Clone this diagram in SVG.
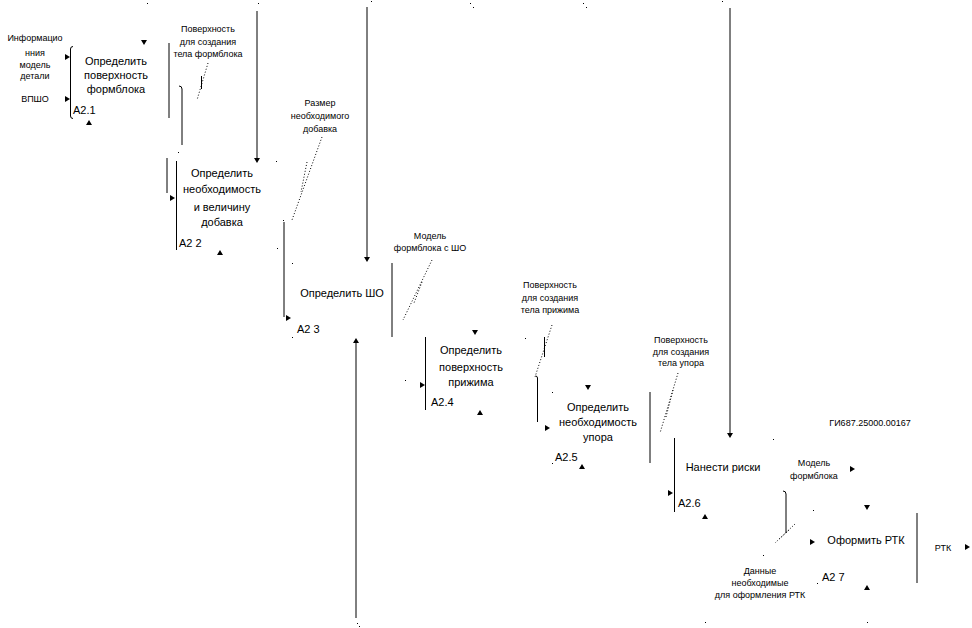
<svg xmlns="http://www.w3.org/2000/svg" width="972" height="628" viewBox="0 0 972 628">
<defs>
<style>
.ln{stroke:#000;stroke-width:1;fill:none}
.dt{stroke:#000;stroke-width:1;fill:none;stroke-dasharray:1,2}
.bx{font-family:"Liberation Sans",Arial,sans-serif;font-size:11px;fill:#000;text-anchor:middle}
.lb{font-family:"Liberation Sans",Arial,sans-serif;font-size:9px;fill:#000;text-anchor:middle}
.id{font-family:"Liberation Sans",Arial,sans-serif;font-size:11px;fill:#000}
.dot{fill:#000}
</style>
<path id="ad" d="M-3,-5 L3,-5 L0,0 Z"/>
<path id="ar" d="M-5,-3 L0,0 L-5,3 Z"/>
<path id="au" d="M-3,5 L3,5 L0,0 Z"/>
</defs>
<rect width="972" height="628" fill="#fff"/>

<g id="box-a21">
<path class="ln" d="M73,46.5 Q70.5,46.5 70.5,49 V116 Q70.5,118.5 73,118.5"/>
<line class="ln" x1="169" y1="43" x2="169" y2="118"/>
<text class="bx" x="116" y="65">Определить</text>
<text class="bx" x="116" y="79">поверхность</text>
<text class="bx" x="116" y="93">формблока</text>
<text class="id" x="73" y="114">А2.1</text>
</g>

<g id="box-a22">
<line class="ln" x1="167" y1="158" x2="167" y2="193"/>
<line class="ln" x1="176.5" y1="161" x2="176.5" y2="250"/>
<text class="bx" x="222" y="177">Определить</text>
<text class="bx" x="222" y="193">необходимость</text>
<text class="bx" x="222" y="211">и величину</text>
<text class="bx" x="222" y="226">добавка</text>
<text class="id" x="179" y="247">А2 2</text>
</g>

<g id="box-a23">
<line class="ln" x1="284" y1="222" x2="284" y2="317"/>
<line class="ln" x1="392" y1="263" x2="392" y2="337"/>
<text class="bx" x="342" y="297">Определить ШО</text>
<text class="id" x="297" y="333">А2 3</text>
</g>

<g id="box-a24">
<line class="ln" x1="425.5" y1="337" x2="425.5" y2="410"/>
<text class="bx" x="471" y="354">Определить</text>
<text class="bx" x="471" y="371">поверхность</text>
<text class="bx" x="471" y="386">прижима</text>
<text class="id" x="431" y="406">А2.4</text>
</g>

<g id="box-a25">
<path class="ln" d="M535.5,376 Q537.5,376 537.5,378 V422"/>
<line class="ln" x1="650" y1="392" x2="650" y2="463"/>
<text class="bx" x="598" y="411">Определить</text>
<text class="bx" x="598" y="426">необходимость</text>
<text class="bx" x="598" y="441">упора</text>
<text class="id" x="555" y="461">А2.5</text>
</g>

<g id="box-a26">
<line class="ln" x1="674.5" y1="438" x2="674.5" y2="512"/>
<text class="bx" x="723" y="471">Нанести риски</text>
<text class="id" x="678" y="507">А2.6</text>
</g>

<g id="box-a27">
<line class="ln" x1="917" y1="513" x2="917" y2="583"/>
<text class="bx" x="866" y="544">Оформить РТК</text>
<text class="id" x="822" y="581">А2 7</text>
</g>

<g id="labels">
<text class="lb" x="35" y="41">Информацио</text>
<text class="lb" x="35" y="56">нния</text>
<text class="lb" x="35" y="68">модель</text>
<text class="lb" x="35" y="79">детали</text>
<text class="lb" x="35" y="102">ВПШО</text>
<text class="lb" x="208" y="32">Поверхность</text>
<text class="lb" x="208" y="45">для создания</text>
<text class="lb" x="208" y="57">тела формблока</text>
<text class="lb" x="320" y="106">Размер</text>
<text class="lb" x="320" y="119">необходимого</text>
<text class="lb" x="320" y="132">добавка</text>
<text class="lb" x="430" y="239">Модель</text>
<text class="lb" x="430" y="251">формблока с ШО</text>
<text class="lb" x="550" y="288">Поверхность</text>
<text class="lb" x="550" y="301">для создания</text>
<text class="lb" x="550" y="313">тела прижима</text>
<text class="lb" x="681" y="343">Поверхность</text>
<text class="lb" x="681" y="355">для создания</text>
<text class="lb" x="681" y="366">тела упора</text>
<text class="lb" x="870" y="426">ГИ687.25000.00167</text>
<text class="lb" x="814" y="466">Модель</text>
<text class="lb" x="814" y="479">формблока</text>
<text class="lb" x="760" y="574">Данные</text>
<text class="lb" x="760" y="586">необходимые</text>
<text class="lb" x="760" y="598">для оформления РТК</text>
<text class="lb" x="943" y="551">РТК</text>
</g>

<g id="connectors">
<line class="ln" x1="182" y1="89" x2="182" y2="145"/>
<path class="ln" d="M179,86 Q182,86 182,89"/>
<line class="ln" x1="257" y1="11" x2="257" y2="158"/>
<line class="ln" x1="367" y1="7" x2="367" y2="257"/>
<line class="ln" x1="730" y1="8" x2="730" y2="433"/>
<line class="ln" x1="356" y1="343" x2="356" y2="618"/>
<path class="ln" d="M783,491 Q786,491 786,494 V533"/>
<line class="ln" x1="201.5" y1="76" x2="201.5" y2="89"/>
<line class="ln" x1="544.5" y1="337" x2="544.5" y2="357"/>

<line class="dt" x1="208" y1="63" x2="197" y2="100"/>
<line class="dt" x1="322" y1="137" x2="292" y2="220"/>
<line class="dt" x1="307" y1="162" x2="301" y2="192"/>
<line class="dt" x1="432" y1="260" x2="403" y2="320"/>
<line class="dt" x1="422" y1="282" x2="414" y2="303"/>
<line class="dt" x1="552" y1="325" x2="535" y2="377"/>
<line class="dt" x1="678" y1="373" x2="660" y2="433"/>
<line class="dt" x1="673" y1="390" x2="666" y2="417"/>
<line class="dt" x1="795" y1="524" x2="775" y2="543"/>
<line class="dt" x1="789" y1="530" x2="778" y2="540"/>

<use href="#ad" x="144" y="45"/>
<use href="#ad" x="257" y="163"/>
<use href="#ad" x="367" y="262"/>
<use href="#ad" x="475" y="335"/>
<use href="#ad" x="588" y="390"/>
<use href="#ad" x="730" y="438"/>
<use href="#ad" x="867" y="510"/>

<use href="#ar" x="70" y="57"/>
<use href="#ar" x="70" y="99"/>
<use href="#ar" x="175" y="198"/>
<use href="#ar" x="291" y="318"/>
<use href="#ar" x="425" y="385"/>
<use href="#ar" x="550" y="428"/>
<use href="#ar" x="673" y="493"/>
<use href="#ar" x="855" y="469"/>
<use href="#ar" x="815" y="542"/>
<use href="#ar" x="970" y="547"/>

<use href="#au" x="89" y="120"/>
<use href="#au" x="220" y="250"/>
<use href="#au" x="356" y="338"/>
<use href="#au" x="480" y="410"/>
<use href="#au" x="582" y="464"/>
<use href="#au" x="705" y="514"/>
<use href="#au" x="867" y="585"/>
</g>

<g id="specks">
<rect class="dot" x="147" y="3" width="1" height="1"/>
<rect class="dot" x="258" y="3" width="1" height="1"/>
<rect class="dot" x="371" y="1" width="1" height="1"/>
<rect class="dot" x="470" y="3" width="1" height="1"/>
<rect class="dot" x="473" y="7" width="1" height="1"/>
<rect class="dot" x="583" y="3" width="1" height="1"/>
<rect class="dot" x="586" y="7" width="1" height="1"/>
<rect class="dot" x="722" y="1" width="1" height="1"/>
<rect class="dot" x="178" y="152" width="1" height="1"/>
<rect class="dot" x="276" y="161" width="1" height="1"/>
<rect class="dot" x="277" y="248" width="1" height="1"/>
<rect class="dot" x="292" y="263" width="1" height="1"/>
<rect class="dot" x="292" y="337" width="1" height="1"/>
<rect class="dot" x="283" y="220" width="1" height="1"/>
<rect class="dot" x="405" y="380" width="1" height="1"/>
<rect class="dot" x="525" y="338" width="1" height="1"/>
<rect class="dot" x="552" y="392" width="1" height="1"/>
<rect class="dot" x="552" y="463" width="1" height="1"/>
<rect class="dot" x="773" y="439" width="1" height="1"/>
<rect class="dot" x="813" y="510" width="1" height="1"/>
<rect class="dot" x="763" y="555" width="1" height="1"/>
<rect class="dot" x="817" y="583" width="1" height="1"/>
<rect class="dot" x="705" y="622" width="1" height="1"/>
<rect class="dot" x="867" y="622" width="1" height="1"/>
<rect class="dot" x="357" y="623" width="1" height="1"/>
<rect class="dot" x="359" y="626" width="1" height="1"/>
</g>
</svg>
